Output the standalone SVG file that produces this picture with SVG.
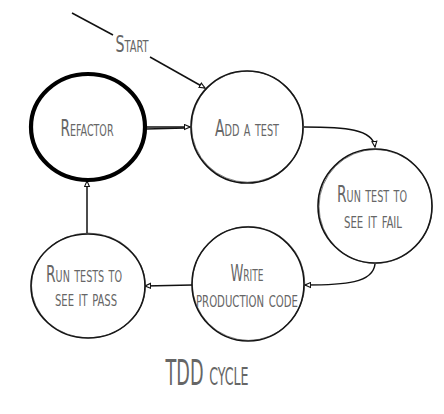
<svg xmlns="http://www.w3.org/2000/svg" width="444" height="414" viewBox="0 0 444 414">
<style>
.node{fill:#fff;stroke:#111;stroke-width:1.6}
.sk{fill:none;stroke:#222;stroke-width:0.8;opacity:0.7}
.thick{fill:#fff;stroke:#000;stroke-width:4.2}
.lbl{font-family:"Liberation Sans Narrow","DejaVu Sans Condensed","Liberation Sans",sans-serif;font-variant:small-caps;font-size:23px;fill:#666;text-anchor:middle}
.title{font-size:35px}
.edge{fill:none;stroke:#111;stroke-width:1.5}
</style>
<defs>
<marker id="ah" viewBox="0 0 10 10" refX="9" refY="5" markerWidth="7" markerHeight="7" markerUnits="userSpaceOnUse" orient="auto">
<path d="M1,1.5 L9,5 L1,8.5 Z" fill="#fff" stroke="#111" stroke-width="1.6"/>
</marker>
</defs>
<g id="connectors">
<path class="edge" d="M72,13 L113,35"/>
<path class="edge" d="M150,57 L205,88" marker-end="url(#ah)"/>
<path class="edge" d="M146,127 L190,127" marker-end="url(#ah)"/>
<path class="edge" d="M146,129 L185,128" stroke-width="0.8"/>
<path class="edge" d="M304,127 C345,127 373,129 375,147" marker-end="url(#ah)"/>
<path class="edge" d="M375,264 C373,283 345,285 305,285" marker-end="url(#ah)"/>
<path class="edge" d="M192,285 L145,286" marker-end="url(#ah)"/>
<path class="edge" d="M87,233 L87,181" marker-end="url(#ah)"/>
</g>
<g id="start-label">
<text class="lbl" x="132" y="52" textLength="33" lengthAdjust="spacingAndGlyphs">Start</text>
</g>
<g id="refactor">
<ellipse class="thick" cx="88" cy="127" rx="57" ry="53"/>
<text class="lbl" x="87" y="136" textLength="53" lengthAdjust="spacingAndGlyphs">Refactor</text>
</g>
<g id="add-test">
<ellipse class="node" cx="247" cy="127" rx="56" ry="56"/>
<ellipse class="sk" cx="247.6" cy="126.6" rx="56" ry="55.6"/>
<text class="lbl" x="247" y="136" textLength="64" lengthAdjust="spacingAndGlyphs">Add a test</text>
</g>
<g id="run-fail">
<ellipse class="node" cx="375" cy="206" rx="57" ry="57"/>
<ellipse class="sk" cx="375.6" cy="206.5" rx="56.6" ry="57"/>
<text class="lbl" x="372" y="202" textLength="70" lengthAdjust="spacingAndGlyphs">Run test to</text>
<text class="lbl" x="373" y="228" textLength="58" lengthAdjust="spacingAndGlyphs">see it fail</text>
</g>
<g id="write-code">
<ellipse class="node" cx="248" cy="284" rx="56" ry="57"/>
<ellipse class="sk" cx="248.5" cy="283.4" rx="56.3" ry="57"/>
<text class="lbl" x="247" y="281" textLength="33" lengthAdjust="spacingAndGlyphs">Write</text>
<text class="lbl" x="247" y="307" textLength="102" lengthAdjust="spacingAndGlyphs">production code</text>
</g>
<g id="run-pass">
<ellipse class="node" cx="88" cy="286" rx="57" ry="52"/>
<ellipse class="sk" cx="88.5" cy="285.5" rx="57" ry="52.4"/>
<text class="lbl" x="84" y="282" textLength="76" lengthAdjust="spacingAndGlyphs">Run tests to</text>
<text class="lbl" x="86" y="306" textLength="62" lengthAdjust="spacingAndGlyphs">see it pass</text>
</g>
<g id="title">
<text class="lbl title" x="207" y="385" textLength="83" lengthAdjust="spacingAndGlyphs">TDD cycle</text>
</g>
</svg>
